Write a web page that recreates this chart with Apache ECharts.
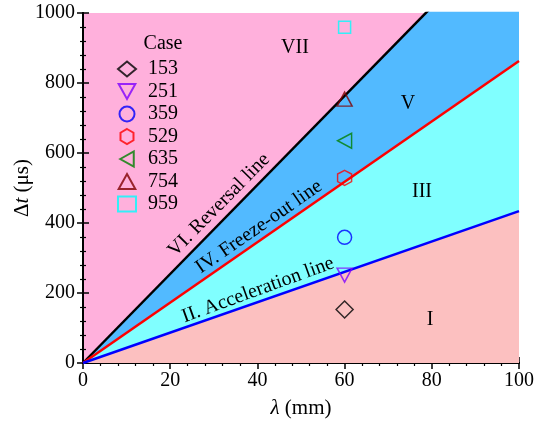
<!DOCTYPE html>
<html>
<head>
<meta charset="utf-8">
<script src="https://cdn.jsdelivr.net/npm/echarts@6/dist/echarts.min.js"></script>
<style>
  html, body { margin: 0; padding: 0; background: #fff; }
  #main { width: 537px; height: 424px; }
</style>
</head>
<body>
<div id="main"></div>
<script>
// data
var caseNames = ['153', '251', '359', '529', '635', '754', '959'];
var caseLambda = [60, 60, 60, 60, 60, 60, 60];
var caseDt = [153, 251, 359, 529, 635, 754, 959];
var caseColors = ['#000000', '#8000FF', '#0000FF', '#FF0000', '#008000', '#800000', '#00FFFF'];
var caseSymbols = ['diamond',
    'path://M-1,-0.9 L1,-0.9 L0,0.9 Z',
    'circle',
    'path://M0,-1 L0.866,-0.5 L0.866,0.5 L0,1 L-0.866,0.5 L-0.866,-0.5 Z',
    'path://M-0.9,0 L0.9,-1 L0.9,1 Z',
    'path://M0,-0.9 L1,0.9 L-1,0.9 Z',
    'rect'];
var caseSizes = [[17, 17], [15, 14], 14, [14, 15], [14, 15], [15, 14], 12];

// boundary lines: [lambda, dt] end points
var reversalLine = [[0, 0], [100, 1272]];
var freezeLine = [[0, 0], [100, 863]];
var accelLine = [[0, 0], [100, 434]];

var xTicks = [0, 20, 40, 60, 80, 100];
var yTicks = [0, 200, 400, 600, 800, 1000];

var font = '"Liberation Serif", "Times New Roman", serif';

var myChart = echarts.init(document.getElementById('main'));

var series = [
    {
        name: 'VI', type: 'line', data: reversalLine, symbol: 'none', silent: true,
        lineStyle: { color: '#000000', width: 2.5 },
        areaStyle: { color: '#52BAFF', opacity: 1 }
    },
    {
        name: 'IV', type: 'line', data: freezeLine, symbol: 'none', silent: true,
        lineStyle: { color: '#FF0000', width: 2.5 },
        areaStyle: { color: '#80FFFF', opacity: 1 }
    },
    {
        name: 'II', type: 'line', data: accelLine, symbol: 'none', silent: true,
        lineStyle: { color: '#0000FF', width: 2.5 },
        areaStyle: { color: '#FCC0C0', opacity: 1 }
    }
];

caseNames.forEach(function (n, i) {
    series.push({
        name: n,
        type: 'scatter',
        data: [[caseLambda[i], caseDt[i]]],
        symbol: caseSymbols[i],
        symbolSize: caseSizes[i],
        z: 5,
        itemStyle: { color: 'transparent', borderColor: caseColors[i], borderWidth: 1.5 },
        emphasis: { disabled: true }
    });
});

function axisCommon(extra) {
    var a = {
        type: 'value',
        axisLine: { show: true, lineStyle: { color: '#000', width: 2 } },
        axisTick: { show: true, inside: true, length: 6, lineStyle: { color: '#000', width: 1.5 } },
        minorTick: { show: true, splitNumber: 5, length: 3, lineStyle: { color: '#000', width: 1.2 } },
        splitLine: { show: false },
        axisLabel: { color: '#000', fontFamily: font, fontSize: 20, margin: 8,
            formatter: function (v) { return String(v); } }
    };
    for (var k in extra) a[k] = extra[k];
    return a;
}

option = {
    animation: false,
    backgroundColor: '#fff',
    grid: {
        left: 83, right: 18, top: 13, bottom: 61,
        outerBoundsMode: 'none',
        containLabel: false,
        show: true, backgroundColor: '#FFB0DC', borderWidth: 0
    },
    legend: {
        data: caseNames,
        orient: 'vertical',
        left: 117,
        top: 59,
        padding: 0,
        itemWidth: 18,
        itemHeight: 15,
        itemGap: 2.5,
        selectedMode: false,
        textStyle: { color: '#000', fontFamily: font, fontSize: 20, padding: [0, 0, 0, 7] }
    },
    xAxis: [
        axisCommon({
            min: xTicks[0], max: xTicks[xTicks.length - 1], interval: 20,
            name: '{i|λ} (mm)', nameLocation: 'middle', nameGap: 35, nameMoveOverlap: false,
            nameTextStyle: {
                color: '#000', fontFamily: font, fontSize: 21,
                rich: { i: { fontStyle: 'italic', fontFamily: font, fontSize: 21, color: '#000' } }
            }
        }),
        axisCommon({
            position: 'top', min: xTicks[0], max: xTicks[xTicks.length - 1], interval: 20,
            axisLabel: { show: false }
        })
    ],
    yAxis: [
        axisCommon({
            min: yTicks[0], max: yTicks[yTicks.length - 1], interval: 200,
            name: 'Δ{i|t} (μs)', nameLocation: 'middle', nameGap: 50, nameRotate: 90, nameMoveOverlap: false,
            nameTextStyle: {
                color: '#000', fontFamily: font, fontSize: 21,
                rich: { i: { fontStyle: 'italic', fontFamily: font, fontSize: 21, color: '#000' } }
            }
        }),
        axisCommon({
            position: 'right', min: yTicks[0], max: yTicks[yTicks.length - 1], interval: 200,
            axisLabel: { show: false }
        })
    ],
    graphic: [
        { type: 'text', x: 163, y: 44, z: 10, style: { text: 'Case', font: '20px ' + font, fill: '#000', align: 'center', verticalAlign: 'middle' } },
        { type: 'text', x: 295, y: 48, z: 10, style: { text: 'VII', font: '20px ' + font, fill: '#000', align: 'center', verticalAlign: 'middle' } },
        { type: 'text', x: 408, y: 104, z: 10, style: { text: 'V', font: '20px ' + font, fill: '#000', align: 'center', verticalAlign: 'middle' } },
        { type: 'text', x: 422, y: 192, z: 10, style: { text: 'III', font: '20px ' + font, fill: '#000', align: 'center', verticalAlign: 'middle' } },
        { type: 'text', x: 430, y: 320, z: 10, style: { text: 'I', font: '20px ' + font, fill: '#000', align: 'center', verticalAlign: 'middle' } },
        { type: 'text', x: 219, y: 205, rotation: 45.5 * Math.PI / 180, z: 10, style: { text: 'VI. Reversal line', font: '20px ' + font, fill: '#000', align: 'center', verticalAlign: 'middle' } },
        { type: 'text', x: 259, y: 227, rotation: 34.8 * Math.PI / 180, z: 10, style: { text: 'IV. Freeze-out line', font: '20px ' + font, fill: '#000', align: 'center', verticalAlign: 'middle' } },
        { type: 'text', x: 258, y: 290, rotation: 20 * Math.PI / 180, z: 10, style: { text: 'II. Acceleration line', font: '20px ' + font, fill: '#000', align: 'center', verticalAlign: 'middle' } }
    ],
    series: series
};
myChart.setOption(option);
</script>
</body>
</html>
